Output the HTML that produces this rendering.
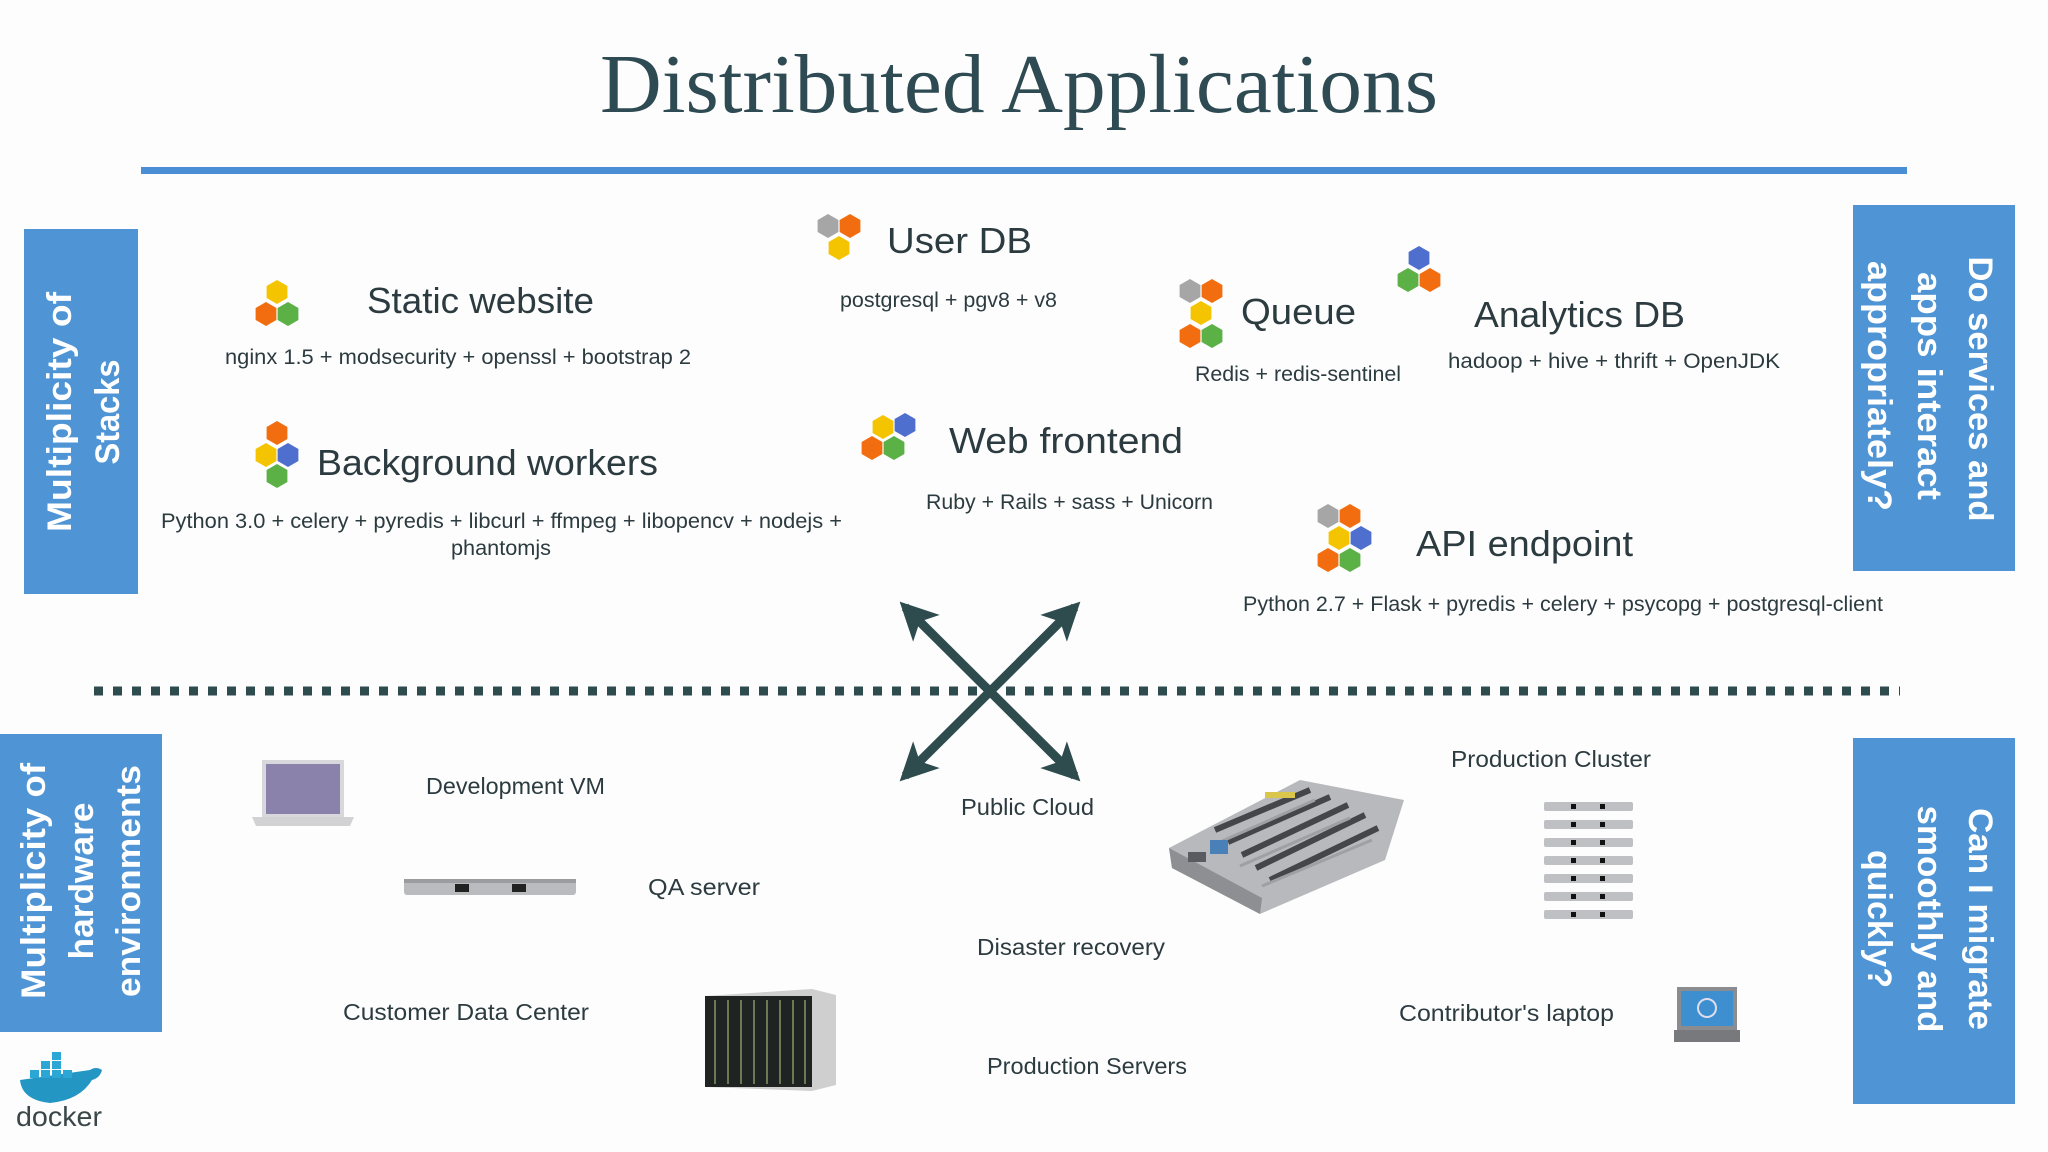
<!DOCTYPE html>
<html><head><meta charset="utf-8"><style>
html,body{margin:0;padding:0;background:#fdfdfd;}
svg{display:block}
.t{font-family:"Liberation Sans",sans-serif;fill:#2c3b40}
.h{font-size:36px}
.s{font-size:21px}
.b{font-size:23px}
.w{font-family:"Liberation Sans",sans-serif;font-weight:bold;font-size:34px;fill:#fff}
</style></head><body>
<svg width="2048" height="1152" viewBox="0 0 2048 1152" xmlns="http://www.w3.org/2000/svg">
<defs>
<polygon id="hx" points="0,-12 10.4,-6 10.4,6 0,12 -10.4,6 -10.4,-6"/>
<marker id="ar" viewBox="0 0 10 10" refX="8" refY="5" markerWidth="4.2" markerHeight="4.2" orient="auto-start-reverse">
<path d="M0,0 L10,5 L0,10 L2.5,5 z" fill="#2e4b4e"/></marker>
</defs>
<rect width="2048" height="1152" fill="#fdfdfd"/>
<text x="1019" y="112" text-anchor="middle" font-family="Liberation Serif,serif" font-size="84" fill="#2e4a52" textLength="838" lengthAdjust="spacingAndGlyphs">Distributed Applications</text>
<rect x="141" y="167" width="1766" height="7" fill="#4a8fd6"/>

<rect x="24" y="229" width="114" height="365" fill="#4f95d6"/>
<text class="w" transform="translate(71,412) rotate(-90)" text-anchor="middle" textLength="240" lengthAdjust="spacingAndGlyphs">Multiplicity of</text>
<text class="w" transform="translate(119,412) rotate(-90)" text-anchor="middle" textLength="105" lengthAdjust="spacingAndGlyphs">Stacks</text>

<rect x="1853" y="205" width="162" height="366" fill="#4f95d6"/>
<text class="w" transform="translate(1969,389) rotate(90)" text-anchor="middle" textLength="265" lengthAdjust="spacingAndGlyphs">Do services and</text>
<text class="w" transform="translate(1918,386) rotate(90)" text-anchor="middle" textLength="228" lengthAdjust="spacingAndGlyphs">apps interact</text>
<text class="w" transform="translate(1868,386) rotate(90)" text-anchor="middle" textLength="250" lengthAdjust="spacingAndGlyphs">appropriately?</text>

<rect x="0" y="734" width="162" height="298" fill="#4f95d6"/>
<text class="w" transform="translate(45,881) rotate(-90)" text-anchor="middle" textLength="236" lengthAdjust="spacingAndGlyphs">Multiplicity of</text>
<text class="w" transform="translate(93,881) rotate(-90)" text-anchor="middle" textLength="157" lengthAdjust="spacingAndGlyphs">hardware</text>
<text class="w" transform="translate(140,881) rotate(-90)" text-anchor="middle" textLength="232" lengthAdjust="spacingAndGlyphs">environments</text>

<rect x="1853" y="738" width="162" height="366" fill="#4f95d6"/>
<text class="w" transform="translate(1969,919) rotate(90)" text-anchor="middle" textLength="222" lengthAdjust="spacingAndGlyphs">Can I migrate</text>
<text class="w" transform="translate(1918,919) rotate(90)" text-anchor="middle" textLength="227" lengthAdjust="spacingAndGlyphs">smoothly and</text>
<text class="w" transform="translate(1868,919) rotate(90)" text-anchor="middle" textLength="138" lengthAdjust="spacingAndGlyphs">quickly?</text>

<line x1="94" y1="691" x2="1900" y2="691" stroke="#2e4b4e" stroke-width="9" stroke-dasharray="9 10"/>

<line x1="905" y1="607" x2="1075" y2="776" stroke="#2e4b4e" stroke-width="9" marker-start="url(#ar)" marker-end="url(#ar)"/>
<line x1="1075" y1="607" x2="905" y2="776" stroke="#2e4b4e" stroke-width="9" marker-start="url(#ar)" marker-end="url(#ar)"/>

<g>
<use href="#hx" x="277" y="292" fill="#f5c400"/><use href="#hx" x="266" y="314" fill="#f26d10"/><use href="#hx" x="288" y="314" fill="#5bb046"/>
<use href="#hx" x="828" y="226" fill="#a6a6a6"/><use href="#hx" x="850" y="226" fill="#f26d10"/><use href="#hx" x="839" y="248" fill="#f5c400"/>
<use href="#hx" x="1190" y="291" fill="#a6a6a6"/><use href="#hx" x="1212" y="291" fill="#f26d10"/><use href="#hx" x="1201" y="313" fill="#f5c400"/><use href="#hx" x="1190" y="336" fill="#f26d10"/><use href="#hx" x="1212" y="336" fill="#5bb046"/>
<use href="#hx" x="1419" y="258" fill="#4f6fcf"/><use href="#hx" x="1408" y="280" fill="#5bb046"/><use href="#hx" x="1430" y="280" fill="#f26d10"/>
<use href="#hx" x="277" y="433" fill="#f26d10"/><use href="#hx" x="266" y="455" fill="#f5c400"/><use href="#hx" x="288" y="455" fill="#4f6fcf"/><use href="#hx" x="277" y="476" fill="#5bb046"/>
<use href="#hx" x="883" y="427" fill="#f5c400"/><use href="#hx" x="905" y="425" fill="#4f6fcf"/><use href="#hx" x="872" y="448" fill="#f26d10"/><use href="#hx" x="894" y="448" fill="#5bb046"/>
<use href="#hx" x="1328" y="516" fill="#a6a6a6"/><use href="#hx" x="1350" y="516" fill="#f26d10"/><use href="#hx" x="1339" y="538" fill="#f5c400"/><use href="#hx" x="1361" y="538" fill="#4f6fcf"/><use href="#hx" x="1328" y="560" fill="#f26d10"/><use href="#hx" x="1350" y="560" fill="#5bb046"/>
</g>

<text class="t h" x="367" y="313" textLength="227" lengthAdjust="spacingAndGlyphs">Static website</text>
<text class="t s" x="225" y="364" textLength="466" lengthAdjust="spacingAndGlyphs">nginx 1.5 + modsecurity + openssl + bootstrap 2</text>
<text class="t h" x="887" y="253" textLength="145" lengthAdjust="spacingAndGlyphs">User DB</text>
<text class="t s" x="840" y="307" textLength="217" lengthAdjust="spacingAndGlyphs">postgresql + pgv8 + v8</text>
<text class="t h" x="1241" y="324" textLength="115" lengthAdjust="spacingAndGlyphs">Queue</text>
<text class="t s" x="1195" y="381" textLength="206" lengthAdjust="spacingAndGlyphs">Redis + redis-sentinel</text>
<text class="t h" x="1474" y="327" textLength="211" lengthAdjust="spacingAndGlyphs">Analytics DB</text>
<text class="t s" x="1448" y="368" textLength="332" lengthAdjust="spacingAndGlyphs">hadoop + hive + thrift + OpenJDK</text>
<text class="t h" x="317" y="475" textLength="341" lengthAdjust="spacingAndGlyphs">Background workers</text>
<text class="t s" x="161" y="528" textLength="681" lengthAdjust="spacingAndGlyphs">Python 3.0 + celery + pyredis + libcurl + ffmpeg + libopencv + nodejs +</text>
<text class="t s" x="451" y="555" textLength="100" lengthAdjust="spacingAndGlyphs">phantomjs</text>
<text class="t h" x="949" y="453" textLength="234" lengthAdjust="spacingAndGlyphs">Web frontend</text>
<text class="t s" x="926" y="509" textLength="287" lengthAdjust="spacingAndGlyphs">Ruby + Rails + sass + Unicorn</text>
<text class="t h" x="1416" y="556" textLength="217" lengthAdjust="spacingAndGlyphs">API endpoint</text>
<text class="t s" x="1243" y="611" textLength="640" lengthAdjust="spacingAndGlyphs">Python 2.7 + Flask + pyredis + celery + psycopg + postgresql-client</text>

<text class="t b" x="426" y="794" textLength="179" lengthAdjust="spacingAndGlyphs">Development VM</text>
<text class="t b" x="648" y="895" textLength="112" lengthAdjust="spacingAndGlyphs">QA server</text>
<text class="t b" x="343" y="1020" textLength="246" lengthAdjust="spacingAndGlyphs">Customer Data Center</text>
<text class="t b" x="961" y="815" textLength="133" lengthAdjust="spacingAndGlyphs">Public Cloud</text>
<text class="t b" x="977" y="955" textLength="188" lengthAdjust="spacingAndGlyphs">Disaster recovery</text>
<text class="t b" x="987" y="1074" textLength="200" lengthAdjust="spacingAndGlyphs">Production Servers</text>
<text class="t b" x="1451" y="767" textLength="200" lengthAdjust="spacingAndGlyphs">Production Cluster</text>
<text class="t b" x="1399" y="1021" textLength="215" lengthAdjust="spacingAndGlyphs">Contributor's laptop</text>

<rect x="262" y="760" width="82" height="57" fill="#d8d8dc"/>
<rect x="266" y="764" width="74" height="50" fill="#8b82ab"/>
<path d="M252,817 L354,817 L350,826 L256,826 z" fill="#d2d2d4"/>
<rect x="404" y="879" width="172" height="16" rx="3" fill="#b9bbbf"/>
<rect x="404" y="879" width="172" height="4" fill="#9a9ca0"/>
<rect x="455" y="884" width="14" height="8" fill="#222"/>
<rect x="512" y="884" width="14" height="8" fill="#222"/>
<path d="M705,996 L812,989 L836,995 L836,1085 L812,1091 L705,1087 z" fill="#cfcfd0"/>
<rect x="705" y="996" width="107" height="91" fill="#1f2322"/>
<g stroke="#6b7a55" stroke-width="2">
<line x1="715" y1="1000" x2="715" y2="1084"/><line x1="728" y1="1000" x2="728" y2="1084"/><line x1="741" y1="1000" x2="741" y2="1084"/><line x1="754" y1="1000" x2="754" y2="1084"/><line x1="767" y1="1000" x2="767" y2="1084"/><line x1="780" y1="1000" x2="780" y2="1084"/><line x1="793" y1="1000" x2="793" y2="1084"/><line x1="805" y1="1000" x2="805" y2="1084"/>
</g>
<!-- motherboard -->
<path d="M1169,848 L1300,780 L1404,800 L1385,860 L1260,914 L1172,868 z" fill="#b8b9bc"/>
<path d="M1169,848 L1172,868 L1260,914 L1262,898 z" fill="#8e8f93"/>
<g stroke="#45464a" stroke-width="6">
<line x1="1215" y1="830" x2="1310" y2="790"/><line x1="1228" y1="842" x2="1330" y2="797"/><line x1="1242" y1="855" x2="1348" y2="805"/><line x1="1256" y1="868" x2="1365" y2="815"/><line x1="1270" y1="880" x2="1378" y2="828"/>
</g>
<g stroke="#9fa0a4" stroke-width="3">
<line x1="1220" y1="842" x2="1315" y2="800"/><line x1="1240" y1="866" x2="1350" y2="818"/><line x1="1262" y1="886" x2="1372" y2="840"/>
</g>
<rect x="1210" y="840" width="18" height="14" fill="#4a80b8"/>
<rect x="1265" y="792" width="30" height="6" fill="#d9c64a"/>
<rect x="1188" y="852" width="18" height="10" fill="#5a5b60"/>
<g fill="#bfc0c3">
<rect x="1544" y="802" width="89" height="9" rx="2"/><rect x="1544" y="820" width="89" height="9" rx="2"/><rect x="1544" y="838" width="89" height="9" rx="2"/><rect x="1544" y="856" width="89" height="9" rx="2"/><rect x="1544" y="874" width="89" height="9" rx="2"/><rect x="1544" y="892" width="89" height="9" rx="2"/><rect x="1544" y="910" width="89" height="9" rx="2"/>
</g>
<g fill="#111">
<rect x="1571" y="804" width="5" height="5"/><rect x="1600" y="804" width="5" height="5"/>
<rect x="1571" y="822" width="5" height="5"/><rect x="1600" y="822" width="5" height="5"/>
<rect x="1571" y="840" width="5" height="5"/><rect x="1600" y="840" width="5" height="5"/>
<rect x="1571" y="858" width="5" height="5"/><rect x="1600" y="858" width="5" height="5"/>
<rect x="1571" y="876" width="5" height="5"/><rect x="1600" y="876" width="5" height="5"/>
<rect x="1571" y="894" width="5" height="5"/><rect x="1600" y="894" width="5" height="5"/>
<rect x="1571" y="912" width="5" height="5"/><rect x="1600" y="912" width="5" height="5"/>
</g>
<rect x="1677" y="987" width="60" height="43" fill="#8a8c90"/>
<rect x="1681" y="991" width="52" height="35" fill="#3d8fd0"/>
<circle cx="1707" cy="1008" r="9" fill="none" stroke="#dde" stroke-width="2"/>
<path d="M1674,1030 L1740,1030 L1740,1042 L1674,1042 z" fill="#77797d"/>
<path d="M20,1080 Q22,1100 50,1103 Q80,1100 92,1080 Q100,1078 102,1070 Q96,1066 90,1070 Z" fill="#2496c4"/>
<g fill="#2ca6d4">
<rect x="30" y="1070" width="9" height="8"/><rect x="41" y="1070" width="9" height="8"/><rect x="52" y="1070" width="9" height="8"/><rect x="63" y="1070" width="9" height="8"/>
<rect x="41" y="1061" width="9" height="8"/><rect x="52" y="1061" width="9" height="8"/><rect x="52" y="1052" width="9" height="8"/>
</g>
<text x="16" y="1126" font-family="Liberation Sans,sans-serif" font-size="28" fill="#3a4648" textLength="86" lengthAdjust="spacingAndGlyphs">docker</text>
</svg>
</body></html>
